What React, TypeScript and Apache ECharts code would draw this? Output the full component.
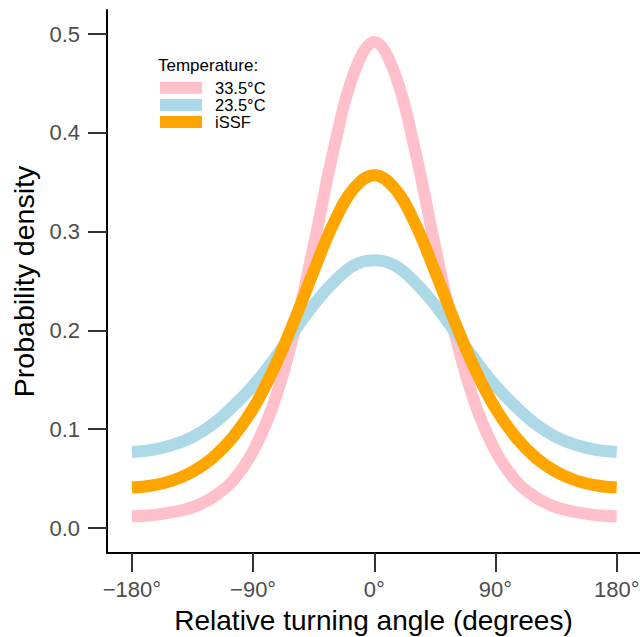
import React, { useEffect, useRef } from "react";
import * as echarts from "echarts";

const angles = [-180, -165, -150, -135, -120, -105, -90, -75, -60, -45, -30, -15, 0, 15, 30, 45, 60, 75, 90, 105, 120, 135, 150, 165, 180];
const seriesNames = ["33.5°C", "23.5°C", "iSSF"];
const hotValues = [0.012, 0.013, 0.016, 0.021, 0.031, 0.048, 0.078, 0.125, 0.195, 0.286, 0.384, 0.461, 0.492, 0.461, 0.384, 0.286, 0.195, 0.125, 0.078, 0.048, 0.031, 0.021, 0.016, 0.013, 0.012];
const coolValues = [0.077, 0.079, 0.084, 0.092, 0.105, 0.123, 0.144, 0.170, 0.198, 0.226, 0.249, 0.266, 0.271, 0.266, 0.249, 0.226, 0.198, 0.170, 0.144, 0.123, 0.105, 0.092, 0.084, 0.079, 0.077];
const issfValues = [0.041, 0.043, 0.048, 0.057, 0.071, 0.092, 0.121, 0.160, 0.208, 0.260, 0.309, 0.344, 0.357, 0.344, 0.309, 0.260, 0.208, 0.160, 0.121, 0.092, 0.071, 0.057, 0.048, 0.043, 0.041];
const xTicks = [-180, -90, 0, 90, 180];
const yTicks = [0, 0.1, 0.2, 0.3, 0.4, 0.5];
const colors = ["#FFC0CB", "#ADD8E6", "#FFA500"];

const FONT = "'Liberation Sans', Arial, sans-serif";

export default function App() {
  const ref = useRef<HTMLDivElement>(null);
  useEffect(() => {
    if (!ref.current) return;
    const chart = echarts.init(ref.current, null, { renderer: "svg" });
    const valueSets = [hotValues, coolValues, issfValues];
    chart.setOption({
      animation: false,
      backgroundColor: "#ffffff",
      textStyle: { fontFamily: FONT },
      grid: { left: 107, right: 0, top: 10, bottom: 84, containLabel: false, outerBoundsMode: "none" },
      legend: {
        data: seriesNames,
        orient: "vertical",
        left: 160,
        top: 79.2,
        icon: "rect",
        itemWidth: 42,
        itemHeight: 12,
        itemGap: 0.2,
        padding: 0,
        textStyle: { fontSize: 16.5, color: "#000000", lineHeight: 16.5, padding: [0, 0, 0, 8], fontFamily: FONT },
      },
      graphic: [
        {
          type: "text",
          left: 158,
          top: 57,
          style: { text: "Temperature:", fontSize: 17, fill: "#000000", fontFamily: FONT },
        },
      ],
      xAxis: {
        type: "value",
        min: -198.5,
        max: 197.3,
        name: "Relative turning angle (degrees)",
        nameLocation: "middle",
        nameGap: 53,
        nameTextStyle: { fontSize: 28, color: "#000000", fontFamily: FONT },
        axisLine: { show: true, onZero: false, lineStyle: { color: "#000000", width: 2 } },
        axisTick: { show: true, length: 19, customValues: xTicks, lineStyle: { color: "#333333", width: 2 } },
        axisLabel: {
          customValues: xTicks,
          fontSize: 22,
          color: "#4d4d4d",
          margin: 25,
          fontFamily: FONT,
          formatter: (v: number) => (v < 0 ? "\u2212" + Math.abs(v) + "°" : v + "°"),
        },
        splitLine: { show: false },
      },
      yAxis: {
        type: "value",
        min: -0.0253,
        max: 0.5243,
        name: "Probability density",
        nameLocation: "middle",
        nameGap: 66,
        nameTextStyle: { fontSize: 28.5, color: "#000000", fontFamily: FONT },
        axisLine: { show: true, onZero: false, lineStyle: { color: "#000000", width: 2 } },
        axisTick: { show: true, length: 19, customValues: yTicks, lineStyle: { color: "#333333", width: 2 } },
        axisLabel: {
          customValues: yTicks,
          fontSize: 22,
          color: "#4d4d4d",
          margin: 27,
          fontFamily: FONT,
          formatter: (v: number) => v.toFixed(1),
        },
        splitLine: { show: false },
      },
      series: seriesNames.map((name, i) => ({
        name,
        type: "line",
        data: angles.map((a, j) => [a, valueSets[i][j]]),
        smooth: 0.4,
        showSymbol: false,
        symbol: "none",
        color: colors[i],
        lineStyle: { color: colors[i], width: 12, cap: "butt" },
        z: 2 + i,
      })),
    });
    return () => chart.dispose();
  }, []);
  return <div ref={ref} style={{ position: "fixed", left: 0, top: 0, width: 640, height: 637 }} />;
}
